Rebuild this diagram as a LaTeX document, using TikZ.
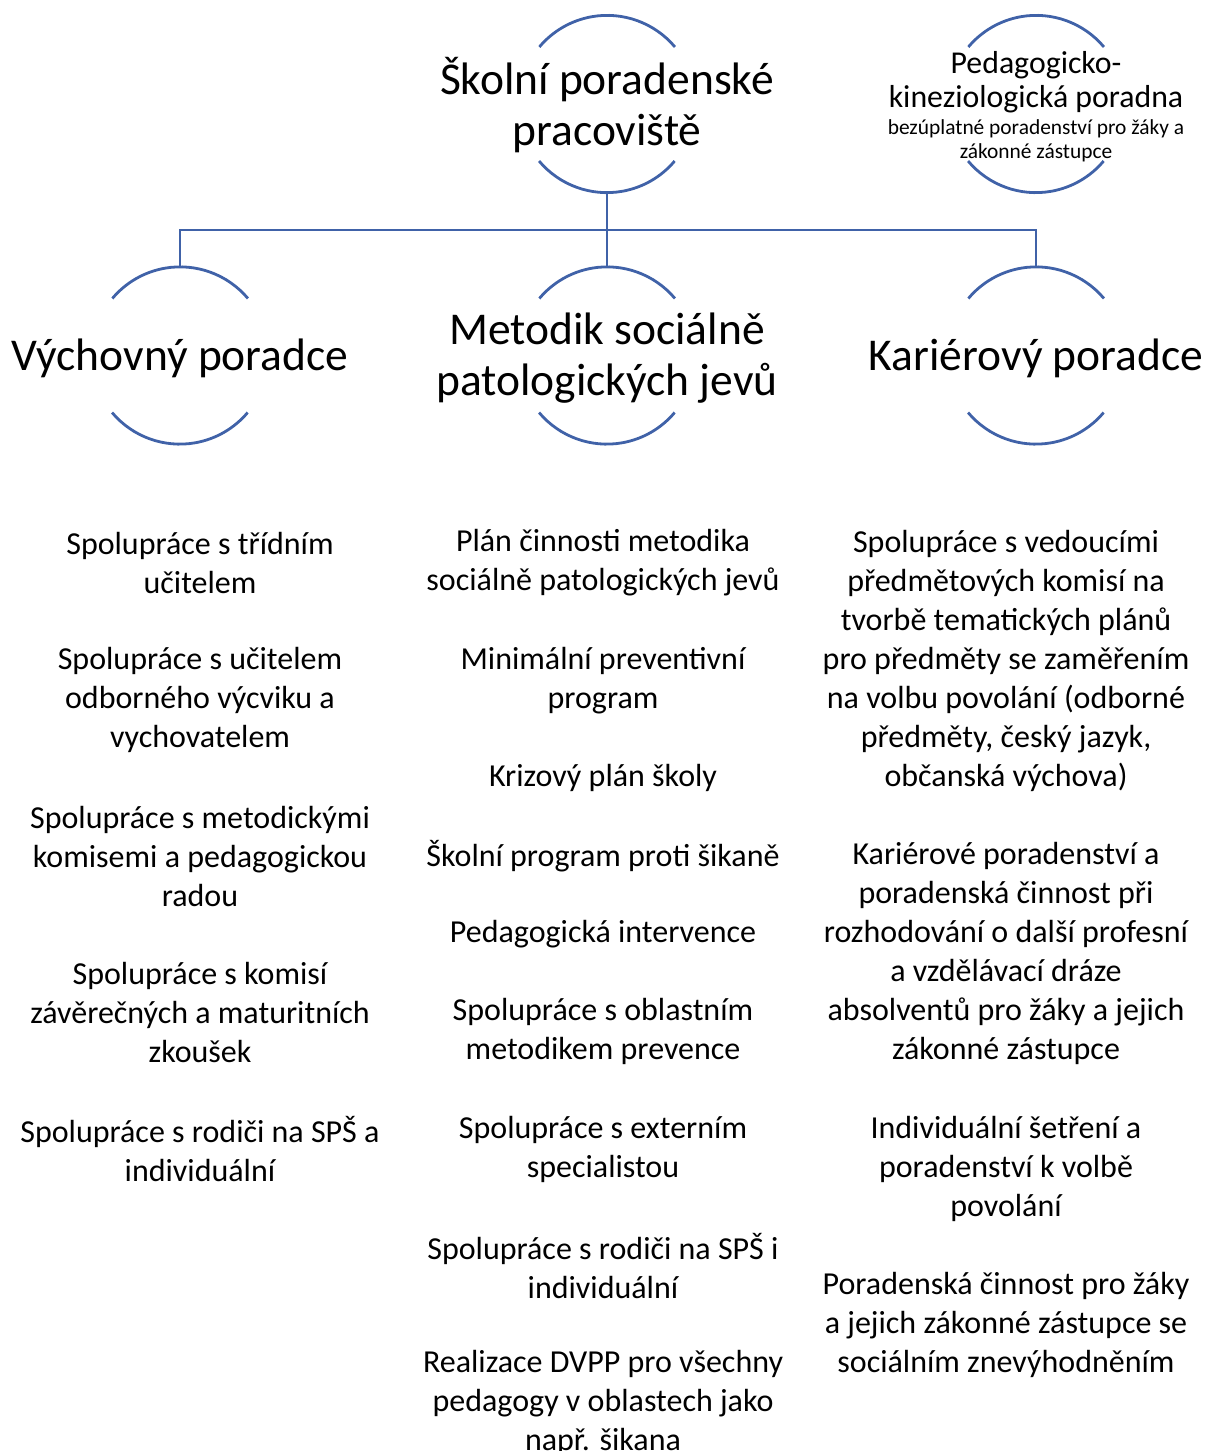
\documentclass[tikz,border=0pt]{standalone}
\usepackage{fontspec}
\setmainfont{Carlito}
\definecolor{lineblue}{RGB}{64,98,168}
\begin{document}
\begin{tikzpicture}[x=1pt,y=1pt,
  ring/.style={circle,minimum size=177pt,inner sep=0pt,draw=none},
  arcline/.style={draw=lineblue,line width=2.8pt},
  link/.style={draw=lineblue,line width=2.8pt,line join=miter},
  bigtitle/.style={align=center,inner sep=0pt,font=\fontsize{45.5}{51}\selectfont},
  midtitle/.style={align=center,inner sep=0pt,font=\fontsize{31.8}{34}\selectfont},
  smalltitle/.style={align=center,inner sep=0pt,font=\fontsize{21.4}{24}\selectfont},
  item/.style={align=center,inner sep=0pt,font=\fontsize{32}{39}\selectfont}]
\useasboundingbox (0,0) rectangle (1205,-1451);
% rings
\node[ring] (c0) at (607,-104) {};
\node[ring] (pk) at (1036,-104) {};
\node[ring] (v) at (180,-355.5) {};
\node[ring] (m) at (607,-355.5) {};
\node[ring] (k) at (1036,-355.5) {};
\foreach \n in {c0,pk,v,m,k}{
  \draw[arcline] (\n.40) arc[start angle=40,end angle=140,radius=88.5];
  \draw[arcline] (\n.220) arc[start angle=220,end angle=320,radius=88.5];
}
% connectors
\coordinate (bar) at (607,-230);
\draw[link] (c0.south) -- (m.north);
\draw[link] (v.north) |- (bar) -| (k.north);
% titles
\node[bigtitle] (t0) at (607,-105) {Školní poradenské\\pracoviště};
\node[midtitle] (tpk1) at (1036,-82) {Pedagogicko-\\kineziologická poradna};
\node[smalltitle] (tpk2) at (1036,-141) {bezúplatné poradenství pro žáky a\\zákonné zástupce};
\node[bigtitle] (tv) at (180,-358) {Výchovný poradce};
\node[bigtitle] (tm) at (607,-358) {Metodik sociálně\\patologických jevů};
\node[bigtitle] (tk) at (1036,-358) {Kariérový poradce};
% left column
\node[item] (l1) at (200,-562.5) {Spolupráce s třídním\\učitelem};
\node[item] (l2) at (200,-700) {Spolupráce s učitelem\\odborného výcviku a\\vychovatelem};
\node[item] (l3) at (200,-856) {Spolupráce s metodickými\\komisemi a pedagogickou\\radou};
\node[item] (l4) at (200,-1012) {Spolupráce s komisí\\závěrečných a maturitních\\zkoušek};
\node[item] (l5) at (200,-1149.5) {Spolupráce s rodiči na SPŠ a\\individuální};
% middle column
\node[item] (m1) at (603,-562.5) {Plán činnosti metodika\\sociálně patologických jevů};
\node[item] (m2) at (603,-680.5) {Minimální preventivní\\program};
\node[item] (m3) at (603,-778) {Krizový plán školy};
\node[item] (m4) at (603,-856) {Školní program proti šikaně};
\node[item] (m5) at (603,-934) {Pedagogická intervence};
\node[item] (m6) at (603,-1031.5) {Spolupráce s oblastním\\metodikem prevence};
\node[item] (m7) at (603,-1149.5) {Spolupráce s externím\\specialistou};
\node[item] (m8) at (603,-1266.5) {Spolupráce s rodiči na SPŠ i\\individuální};
\node[item] (m9) at (603,-1403) {Realizace DVPP pro všechny\\pedagogy v oblastech jako\\např. šikana};
% right column
\node[item] (r1) at (1006,-660.5) {Spolupráce s vedoucími\\předmětových komisí na\\tvorbě tematických plánů\\pro předměty se zaměřením\\na volbu povolání (odborné\\předměty, český jazyk,\\občanská výchova)};
\node[item] (r2) at (1006,-953.5) {Kariérové poradenství a\\poradenská činnost při\\rozhodování o další profesní\\a vzdělávací dráze\\absolventů pro žáky a jejich\\zákonné zástupce};
\node[item] (r3) at (1006,-1169) {Individuální šetření a\\poradenství k volbě\\povolání};
\node[item] (r4) at (1006,-1325) {Poradenská činnost pro žáky\\a jejich zákonné zástupce se\\sociálním znevýhodněním};
\end{tikzpicture}
\end{document}
